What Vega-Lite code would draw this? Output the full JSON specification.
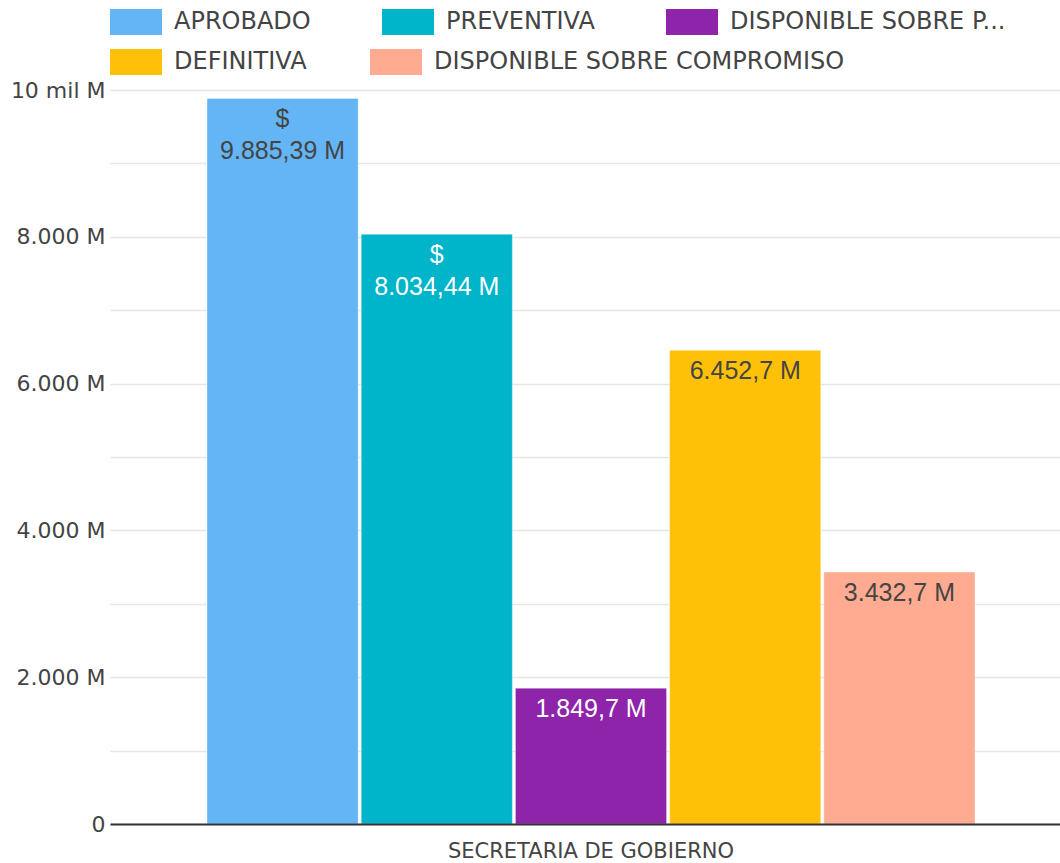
{
  "$schema": "https://vega.github.io/schema/vega-lite/v6.json",
  "width": 950,
  "height": 734,
  "autosize": {"type": "none"},
  "padding": {"left": 110, "top": 90, "right": 0, "bottom": 39},
  "background": "white",
  "config": {"view": {"stroke": null}},
  "data": {
    "values": [
      {"entidad": "SECRETARIA DE GOBIERNO", "series": "APROBADO", "valor": 9885.39, "label": "$\n9.885,39 M"},
      {"entidad": "SECRETARIA DE GOBIERNO", "series": "PREVENTIVA", "valor": 8034.44, "label": "$\n8.034,44 M"},
      {"entidad": "SECRETARIA DE GOBIERNO", "series": "DISPONIBLE SOBRE PREVENTIVA", "valor": 1849.7, "label": "1.849,7 M"},
      {"entidad": "SECRETARIA DE GOBIERNO", "series": "DEFINITIVA", "valor": 6452.7, "label": "6.452,7 M"},
      {"entidad": "SECRETARIA DE GOBIERNO", "series": "DISPONIBLE SOBRE COMPROMISO", "valor": 3432.7, "label": "3.432,7 M"}
    ]
  },
  "encoding": {
    "x": {
      "field": "entidad",
      "type": "nominal",
      "title": null,
      "scale": {"paddingInner": 0, "paddingOuter": 0.1185, "align": 0.533},
      "axis": {
        "labelAngle": 0,
        "ticks": false,
        "domainColor": "#333333",
        "domainWidth": 2,
        "labelFont": "DejaVu Sans",
        "labelFontSize": 21,
        "labelColor": "#444444",
        "labelPadding": 16,
        "labelLimit": 800,
        "zindex": 1
      }
    },
    "xOffset": {
      "field": "series",
      "type": "nominal",
      "sort": ["APROBADO", "PREVENTIVA", "DISPONIBLE SOBRE PREVENTIVA", "DEFINITIVA", "DISPONIBLE SOBRE COMPROMISO"],
      "scale": {"paddingInner": 0.02, "paddingOuter": 0}
    },
    "y": {
      "field": "valor",
      "type": "quantitative",
      "title": null,
      "scale": {"domain": [0, 10000], "nice": false},
      "axis": {
        "values": [0, 1000, 2000, 3000, 4000, 5000, 6000, 7000, 8000, 9000, 10000],
        "labelExpr": "datum.value == 0 ? '0' : datum.value == 10000 ? '10 mil M' : (datum.value % 2000 == 0 ? replace(format(datum.value, ','), ',', '.') + ' M' : '')",
        "domain": false,
        "ticks": false,
        "grid": true,
        "gridColor": "#e6e6e6",
        "gridWidth": 1.5,
        "labelFont": "DejaVu Sans",
        "labelFontSize": 22,
        "labelColor": "#444444",
        "labelPadding": 5
      }
    }
  },
  "layer": [
    {
      "mark": {"type": "bar", "stroke": "white", "strokeWidth": 0.6, "strokeOpacity": 0.6},
      "encoding": {
        "fill": {
          "field": "series",
          "type": "nominal",
          "scale": {
            "domain": ["APROBADO", "PREVENTIVA", "DISPONIBLE SOBRE PREVENTIVA", "DEFINITIVA", "DISPONIBLE SOBRE COMPROMISO"],
            "range": ["#64b5f6", "#00b4ca", "#8e24aa", "#ffc107", "#ffab91"]
          },
          "legend": {
            "title": null,
            "values": ["APROBADO", "PREVENTIVA", "DISPONIBLE SOBRE PREVENTIVA"],
            "orient": "none",
            "legendX": 0,
            "legendY": -94,
            "direction": "horizontal",
            "padding": 0,
            "columnPadding": 71,
            "symbolType": "M-1,-0.5H1V0.5H-1Z",
            "symbolSize": 2704,
            "symbolStrokeWidth": 0,
            "symbolOpacity": 1,
            "labelOffset": 12,
            "labelFont": "DejaVu Sans",
            "labelFontSize": 24,
            "labelColor": "#444444",
            "labelLimit": 400,
            "labelExpr": "datum.label == 'DISPONIBLE SOBRE PREVENTIVA' ? 'DISPONIBLE SOBRE P...' : datum.label"
          }
        }
      }
    },
    {
      "mark": {
        "type": "text",
        "baseline": "top",
        "align": "center",
        "dy": 9,
        "lineBreak": "\n",
        "lineHeight": 32,
        "font": "Liberation Sans",
        "fontSize": 25,
        "strokeWidth": 0
      },
      "encoding": {
        "text": {"field": "label"},
        "stroke": {
          "field": "series",
          "type": "nominal",
          "scale": {
            "domain": ["DEFINITIVA", "DISPONIBLE SOBRE COMPROMISO", "APROBADO", "PREVENTIVA", "DISPONIBLE SOBRE PREVENTIVA"],
            "range": ["#ffc107", "#ffab91", "#64b5f6", "#00b4ca", "#8e24aa"]
          },
          "legend": {
            "title": null,
            "values": ["DEFINITIVA", "DISPONIBLE SOBRE COMPROMISO"],
            "orient": "none",
            "legendX": -13,
            "legendY": -67,
            "direction": "horizontal",
            "padding": 0,
            "columnPadding": 11,
            "symbolType": "M-1,0H1",
            "symbolSize": 2704,
            "symbolStrokeWidth": 26,
            "symbolOpacity": 1,
            "labelOffset": -1,
            "labelFont": "DejaVu Sans",
            "labelFontSize": 24,
            "labelColor": "#444444",
            "labelLimit": 500,
            "encode": {
              "symbols": {
                "update": {
                  "strokeWidth": {"value": 26},
                  "strokeCap": {"value": "butt"},
                  "strokeOpacity": {"value": 1},
                  "opacity": {"value": 1}
                }
              }
            }
          }
        },
        "color": {
          "condition": {"test": "datum.series == 'PREVENTIVA' || datum.series == 'DISPONIBLE SOBRE PREVENTIVA'", "value": "#ffffff"},
          "value": "#444444"
        }
      }
    }
  ]
}
